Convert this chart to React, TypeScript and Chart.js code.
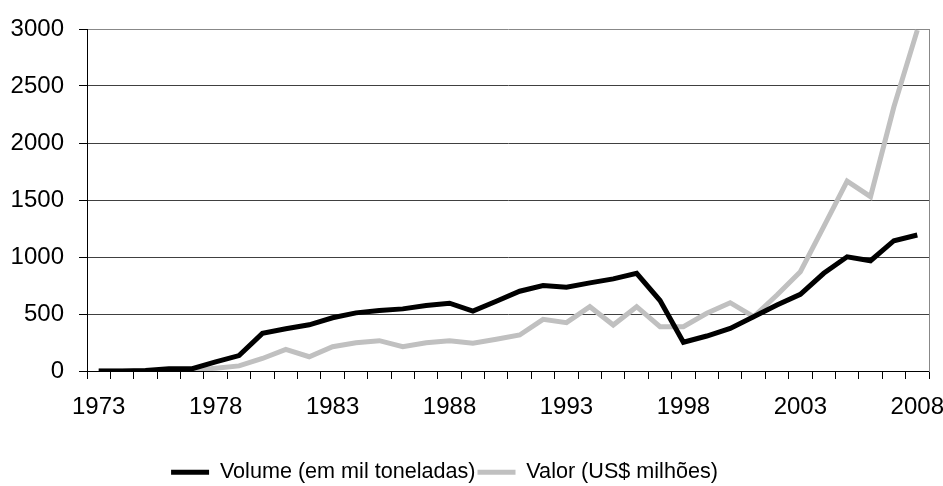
import React, { useEffect, useRef } from 'react';
import { Chart, registerables } from 'chart.js';

Chart.register(...registerables);

const years = [
  '1973', '1974', '1975', '1976', '1977', '1978', '1979', '1980', '1981', '1982',
  '1983', '1984', '1985', '1986', '1987', '1988', '1989', '1990', '1991', '1992',
  '1993', '1994', '1995', '1996', '1997', '1998', '1999', '2000', '2001', '2002',
  '2003', '2004', '2005', '2006', '2007', '2008',
];

const volume = [
  0, 0, 5, 20, 20, 80, 135, 330, 370, 405,
  467, 510, 530, 545, 575, 595, 525, 612, 700, 750,
  735, 773, 808, 857, 618, 252, 307, 374, 476, 579,
  673, 857, 1002, 967, 1143, 1193,
];

const valor = [
  0, 0, 0, 0, 5, 25, 45, 110, 190, 125,
  213, 248, 266, 213, 248, 266, 243, 278, 316, 453,
  424, 564, 403, 564, 389, 389, 506, 599, 476, 667,
  871, 1266, 1666, 1529, 2318, 2990,
];

const seriesNames = ['Volume (em mil toneladas)', 'Valor (US$ milhões)'];
const seriesColors = ['#000000', '#c0c0c0'];

const FONT = 'Liberation Sans, Arial, sans-serif';

export default function App() {
  const ref = useRef<HTMLCanvasElement | null>(null);

  useEffect(() => {
    if (!ref.current) return;
    const shiftLegend = {
      id: 'shiftLegend',
      afterLayout(chart: any) {
        const lg = chart.legend;
        if (lg) {
          lg.left -= 20;
          lg.right -= 20;
          lg.top += 7;
          lg.bottom += 7;
        }
      },
    };
    const chart = new Chart(ref.current, {
      type: 'line',
      data: {
        labels: years,
        datasets: [
          {
            label: seriesNames[0],
            data: volume,
            borderColor: seriesColors[0],
            backgroundColor: seriesColors[0],
            borderWidth: 5,
            pointRadius: 0,
            tension: 0,
          },
          {
            label: seriesNames[1],
            data: valor,
            borderColor: seriesColors[1],
            backgroundColor: seriesColors[1],
            borderWidth: 5,
            pointRadius: 0,
            tension: 0,
          },
        ],
      },
      options: {
        animation: false,
        responsive: false,
        events: [],
        layout: { padding: { left: 0, right: 14, top: 29, bottom: 0 } },
        plugins: {
          tooltip: { enabled: false },
          legend: {
            position: 'bottom',
            align: 'center',
            labels: {
              boxWidth: 38,
              boxHeight: 5,
              padding: 2,
              color: '#000',
              font: { family: FONT, size: 21.6 },
              generateLabels: (c: any) =>
                Chart.defaults.plugins.legend.labels
                  .generateLabels(c)
                  .map((l: any) => ({ ...l, lineWidth: 0 })),
            },
          },
        },
        scales: {
          x: {
            offset: true,
            grid: {
              offset: true,
              drawOnChartArea: false,
              drawTicks: true,
              tickLength: 8,
              tickColor: '#000',
            },
            border: { color: '#000', width: 1 },
            ticks: {
              autoSkip: false,
              maxRotation: 0,
              minRotation: 0,
              padding: 14,
              color: '#000',
              font: { family: FONT, size: 24 },
              callback: (_v: any, i: number) => (i % 5 === 0 ? years[i] : ''),
            },
            afterFit: (s: any) => {
              s.height = 81.4;
              s.paddingLeft = 0;
              s.paddingRight = 0;
            },
          },
          y: {
            min: 0,
            max: 3000,
            ticks: {
              stepSize: 500,
              padding: 15,
              color: '#000',
              font: { family: FONT, size: 24 },
              callback: (v: any) => String(v),
            },
            grid: {
              color: (ctx: any) => (ctx.tick && ctx.tick.value === 3000 ? '#888888' : '#404040'),
              tickColor: '#000',
              tickLength: 8,
            },
            border: { color: '#000', width: 1 },
            afterFit: (s: any) => {
              s.width = 87;
              s.paddingTop = 0;
              s.paddingBottom = 0;
            },
          },
          y2: {
            position: 'right',
            min: 0,
            max: 3000,
            grid: { display: false },
            ticks: { display: false },
            border: { color: '#888888', width: 1 },
            afterFit: (s: any) => {
              s.width = 0;
            },
          },
        },
      },
      plugins: [shiftLegend],
    } as any);
    return () => chart.destroy();
  }, []);

  return (
    <div style={{ position: 'absolute', left: 0, top: 0, width: 943, height: 486 }}>
      <canvas ref={ref} width={943} height={486} style={{ display: 'block', width: 943, height: 486 }} />
    </div>
  );
}
